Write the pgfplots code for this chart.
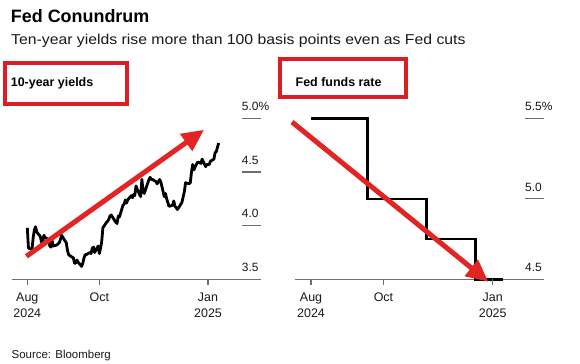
\documentclass[border=0pt]{standalone}
\usepackage{fontspec}
\setmainfont{Liberation Sans}
\newfontfamily\subfont[FakeStretch=1.1]{Liberation Sans}
\usepackage{pgfplots}
\pgfplotsset{compat=1.18}
\usetikzlibrary{arrows.meta}
\definecolor{boxred}{RGB}{220,30,36}
\definecolor{arrred}{RGB}{226,36,36}
\definecolor{axgray}{RGB}{110,110,110}
\definecolor{txt}{RGB}{25,25,25}

\pgfplotstableread{
day yield
0 3.98
1 3.79
4 3.78
5 3.89
6 3.96
7 3.99
8 3.94
11 3.90
12 3.85
13 3.83
14 3.91
15 3.89
18 3.87
19 3.81
20 3.80
21 3.86
22 3.81
25 3.82
26 3.83
27 3.84
28 3.87
29 3.91
33 3.84
34 3.77
35 3.73
36 3.72
39 3.70
40 3.65
41 3.65
42 3.68
43 3.66
46 3.62
47 3.65
48 3.70
49 3.73
50 3.73
53 3.75
54 3.74
55 3.79
56 3.80
57 3.75
60 3.81
61 3.74
62 3.79
63 3.85
64 3.98
67 4.03
68 4.04
69 4.06
70 4.09
71 4.10
75 4.03
76 4.02
77 4.09
78 4.08
81 4.19
82 4.20
83 4.24
84 4.21
85 4.24
88 4.28
89 4.26
90 4.29
91 4.28
92 4.37
95 4.29
96 4.27
97 4.43
98 4.33
99 4.30
103 4.43
104 4.45
105 4.43
106 4.43
109 4.41
110 4.39
111 4.41
112 4.43
113 4.41
116 4.27
117 4.30
118 4.25
120 4.18
123 4.19
124 4.23
125 4.18
126 4.17
127 4.15
130 4.20
131 4.22
132 4.27
133 4.32
134 4.40
137 4.39
138 4.40
139 4.50
140 4.57
141 4.52
144 4.59
145 4.59
147 4.58
148 4.62
151 4.55
152 4.57
154 4.57
155 4.60
158 4.62
159 4.68
160 4.69
162 4.77
}\yields

\pgfplotstableread{
day rate
0 5.50
47.5 5.00
97 4.75
138.5 4.50
161.5 4.50
}\fedfunds

\pgfplotsset{fedstyle/.style={
  scale only axis, clip=false,
  axis x line*=bottom, axis y line*=right,
  x axis line style={draw=axgray, line width=1.2bp, -},
  y axis line style={draw=none},
  xtick={0,61,153},
  xticklabels={{Aug\\2024},{Oct},{Jan\\2025}},
  xtick style={draw=none},
  xticklabel style={align=center, anchor=north, inner sep=0pt,
    font=\fontsize{12.5}{16.6}\selectfont, text=txt, yshift=-13bp},
  ytick align=inside, major tick length=19bp,
  ytick style={draw=axgray, line width=1.2bp},
  yticklabel pos=right,
  yticklabel style={anchor=base west, inner sep=0pt, xshift=-19bp, yshift=7.8bp,
    font=\fontsize{12}{14}\selectfont, text=txt},
  height=171.7bp,
}}

\begin{document}
\begin{tikzpicture}
\useasboundingbox (0,0) rectangle (580bp,-364bp);
\fill[white] (0,0) rectangle (580bp,-364bp);

\node[anchor=base west, inner sep=0pt, text=black] at (10.7bp,-22bp)
  {\fontsize{18}{20}\selectfont\bfseries Fed Conundrum};
\node[anchor=base west, inner sep=0pt, text=txt] at (11bp,-44.3bp)
  {\subfont\fontsize{14.4}{16}\selectfont Ten-year yields rise more than 100 basis points even as Fed cuts};

% Left panel: 10-year yields
\begin{axis}[fedstyle, at={(12bp,-279.3bp)}, anchor=south west,
  width=248.7bp, xmin=-12.95, xmax=197.6, ymin=3.5, ymax=5.1,
  ytick={3.5,4,4.5,5}, yticklabels={3.5,4.0,4.5,5.0\%}]
\addplot[black, line width=2.8bp, line join=round] table[x=day, y=yield] {\yields};
\draw[axgray, line width=1.2bp] (axis cs:0,3.5) -- ([yshift=-5.5bp]axis cs:0,3.5);
\draw[axgray, line width=1.2bp] (axis cs:61,3.5) -- ([yshift=-5.5bp]axis cs:61,3.5);
\draw[axgray, line width=1.2bp] (axis cs:153,3.5) -- ([yshift=-5.5bp]axis cs:153,3.5);
\draw[arrred, line width=5bp, -{Triangle[length=22bp,width=20bp]}]
  (axis cs:-0.8,3.714) -- (axis cs:149.6,4.893);
\end{axis}

% Right panel: Fed funds rate
\begin{axis}[fedstyle, at={(295bp,-279.3bp)}, anchor=south west,
  width=249bp, xmin=-13.5, xmax=196.2, ymin=4.5, ymax=5.5665,
  ytick={4.5,5,5.5}, yticklabels={4.5,5.0,5.5\%}]
\addplot[black, line width=2.6bp, const plot] table[x=day, y=rate] {\fedfunds};
\draw[axgray, line width=1.2bp] (axis cs:0,4.5) -- ([yshift=-5.5bp]axis cs:0,4.5);
\draw[axgray, line width=1.2bp] (axis cs:61,4.5) -- ([yshift=-5.5bp]axis cs:61,4.5);
\draw[axgray, line width=1.2bp] (axis cs:153,4.5) -- ([yshift=-5.5bp]axis cs:153,4.5);
\draw[arrred, line width=5bp, -{Triangle[length=22bp,width=20bp]}]
  (axis cs:-16,5.477) -- (axis cs:149.3,4.485);
\end{axis}

% Panel title boxes
\draw[boxred, line width=4bp] (5bp,-62.5bp) rectangle (127bp,-103.7bp);
\draw[boxred, line width=4bp] (279.5bp,-58.8bp) rectangle (406bp,-97bp);
\node[anchor=base west, inner sep=0pt, text=black] at (10.7bp,-86.7bp)
  {\fontsize{12.5}{14}\selectfont\bfseries 10-year yields};
\node[anchor=base west, inner sep=0pt, text=black] at (295.5bp,-86.7bp)
  {\fontsize{12.5}{14}\selectfont\bfseries Fed funds rate};

\node[anchor=base west, inner sep=0pt, text=txt] at (11.5bp,-358.5bp)
  {\fontsize{11.5}{13}\selectfont Source: Bloomberg};
\end{tikzpicture}
\end{document}
